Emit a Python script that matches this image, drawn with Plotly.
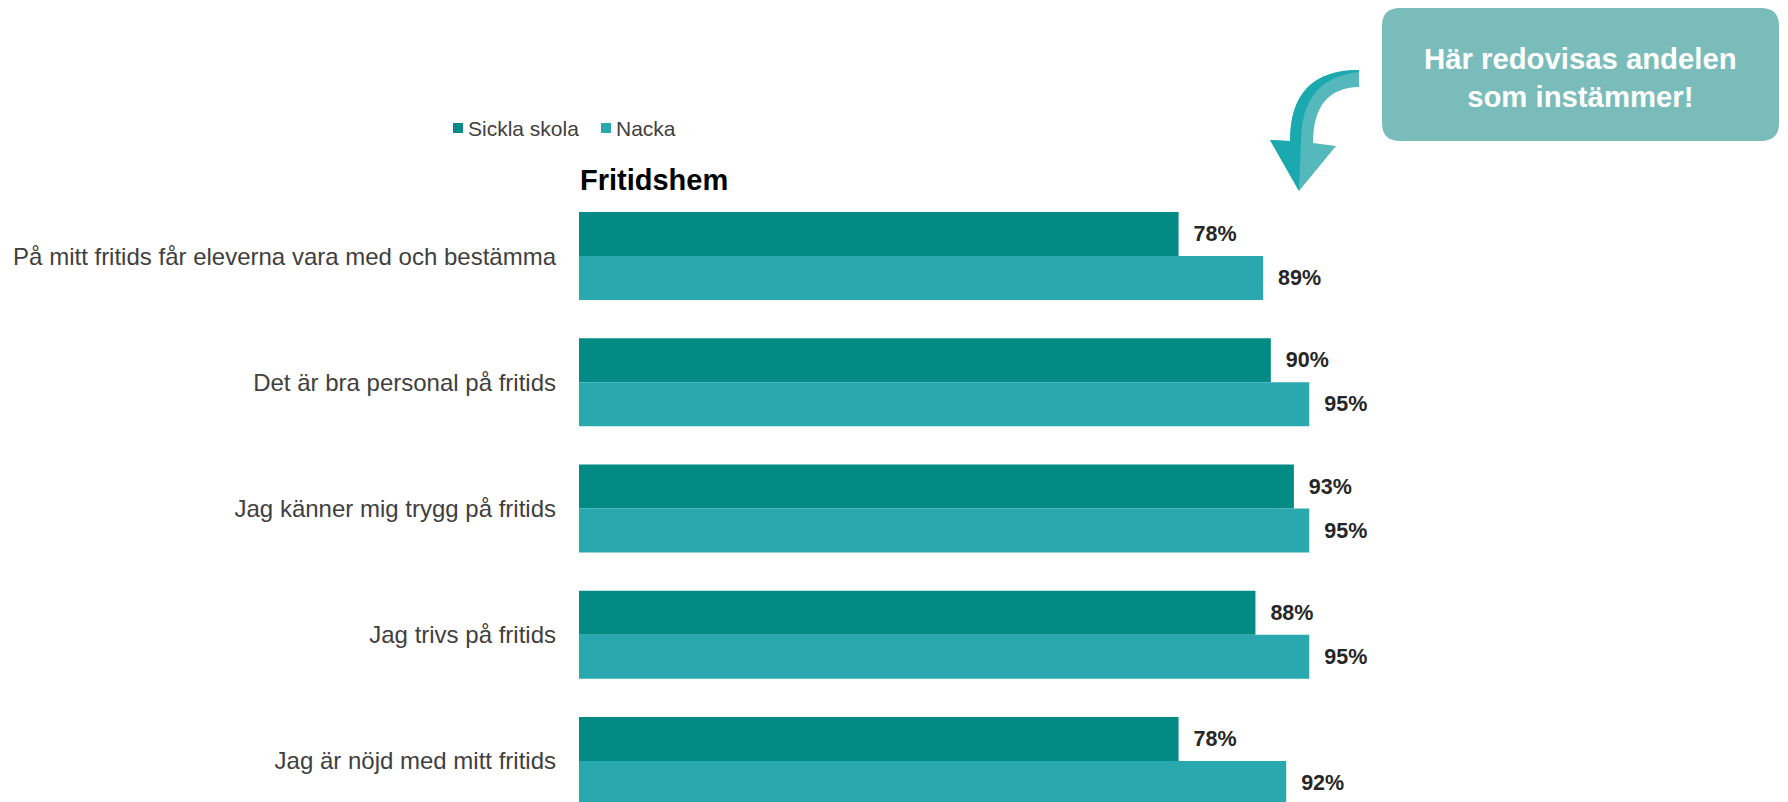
import plotly.graph_objects as go

categories = [
    "På mitt fritids får eleverna vara med och bestämma",
    "Det är bra personal på fritids",
    "Jag känner mig trygg på fritids",
    "Jag trivs på fritids",
    "Jag är nöjd med mitt fritids",
]
sickla = [78, 90, 93, 88, 78]
nacka = [89, 95, 95, 95, 92]
series_names = ["Sickla skola", "Nacka"]
title_text = "Fritidshem"
callout_text = "Här redovisas andelen<br>som instämmer!"

C_SICKLA = "#018B84"
C_NACKA = "#29A8B0"
C_CALLOUT = "#7ABCBA"
FONT = "Liberation Sans, Arial, sans-serif"

FW, FH = 1788, 802
L, W, T = 579, 884, 193
B = FH
H = B - T


def px(x):
    return (x - L) / W


def py(y):
    return (B - y) / H


def path(points_cmds):
    out = []
    for cmd, pts in points_cmds:
        s = cmd
        for (x, y) in pts:
            s += f" {px(x):.5f},{py(y):.5f}"
        out.append(s)
    return " ".join(out) + " Z"


NB = "\u00a0\u00a0"
fig = go.Figure()
for name, vals, col in [(series_names[0], sickla, C_SICKLA), (series_names[1], nacka, C_NACKA)]:
    fig.add_trace(go.Bar(
        y=categories, x=vals, name=name, orientation="h",
        marker=dict(color=col, line=dict(width=0)),
        text=[f"{NB}{v}%" for v in vals], textposition="outside",
        constraintext="none",
        textfont=dict(family=FONT, size=21.5, color="#262626", weight="bold"),
        showlegend=False, hoverinfo="skip",
    ))

shapes = []
# callout rounded box
x0, x1, y0, y1, r = 1382, 1779, 8, 141, 18
shapes.append(dict(
    type="path", xref="paper", yref="paper", layer="above",
    path=path([
        ("M", [(x0 + r, y0)]), ("L", [(x1 - r, y0)]), ("Q", [(x1, y0), (x1, y0 + r)]),
        ("L", [(x1, y1 - r)]), ("Q", [(x1, y1), (x1 - r, y1)]),
        ("L", [(x0 + r, y1)]), ("Q", [(x0, y1), (x0, y1 - r)]),
        ("L", [(x0, y0 + r)]), ("Q", [(x0, y0), (x0 + r, y0)]),
    ]),
    fillcolor=C_CALLOUT, line=dict(width=0),
))
# curved arrow (light part)
shapes.append(dict(
    type="path", xref="paper", yref="paper", layer="above",
    path=path([
        ("M", [(1359, 70)]), ("Q", [(1290, 70), (1290, 141)]),
        ("L", [(1270, 140)]), ("L", [(1299, 191)]), ("L", [(1336, 146)]),
        ("L", [(1313, 143)]), ("Q", [(1313, 88), (1359, 87)]),
    ]),
    fillcolor="#55B8BD", line=dict(width=0),
))
# darker outer half of arrow
shapes.append(dict(
    type="path", xref="paper", yref="paper", layer="above",
    path=path([
        ("M", [(1359, 70)]), ("Q", [(1290, 70), (1290, 141)]),
        ("L", [(1270, 140)]), ("L", [(1299, 191)]), ("L", [(1301, 142)]),
        ("Q", [(1301, 78), (1359, 72)]),
    ]),
    fillcolor="#1BA9B0", line=dict(width=0),
))
# legend squares
for xs, col in [(453, C_SICKLA), (601, C_NACKA)]:
    shapes.append(dict(type="rect", xref="paper", yref="paper",
                       x0=px(xs), x1=px(xs + 10), y0=py(133), y1=py(123),
                       fillcolor=col, line=dict(width=0)))

annotations = [
    dict(text=f"<b>{title_text}</b>", xref="paper", yref="paper", x=px(578), y=py(180),
         xanchor="left", yanchor="middle", showarrow=False,
         font=dict(family=FONT, size=29, color="#000000")),
    dict(text=f"<b>{callout_text}</b>", xref="paper", yref="paper", x=px(1580), y=py(77),
         xanchor="center", yanchor="middle", showarrow=False,
         font=dict(family=FONT, size=29.3, color="#FFFFFF")),
    dict(text=series_names[0], xref="paper", yref="paper", x=px(466), y=py(128),
         xanchor="left", yanchor="middle", showarrow=False,
         font=dict(family=FONT, size=21, color="#404040")),
    dict(text=series_names[1], xref="paper", yref="paper", x=px(614), y=py(128),
         xanchor="left", yanchor="middle", showarrow=False,
         font=dict(family=FONT, size=21, color="#404040")),
]

fig.update_layout(
    width=FW, height=FH,
    margin=dict(l=L, r=FW - L - W, t=T, b=0, pad=0),
    paper_bgcolor="white", plot_bgcolor="white",
    barmode="group", bargap=0.303, bargroupgap=0,
    shapes=shapes, annotations=annotations,
    font=dict(family=FONT),
    xaxis=dict(range=[0, 115], visible=False, fixedrange=True),
    yaxis=dict(type="category", range=[4.325, -0.5], showgrid=False, zeroline=False,
               showline=False, ticks="", ticklabelstandoff=22,
               tickfont=dict(family=FONT, size=24, color="#404040"), fixedrange=True),
)

fig.write_html("out.html")
